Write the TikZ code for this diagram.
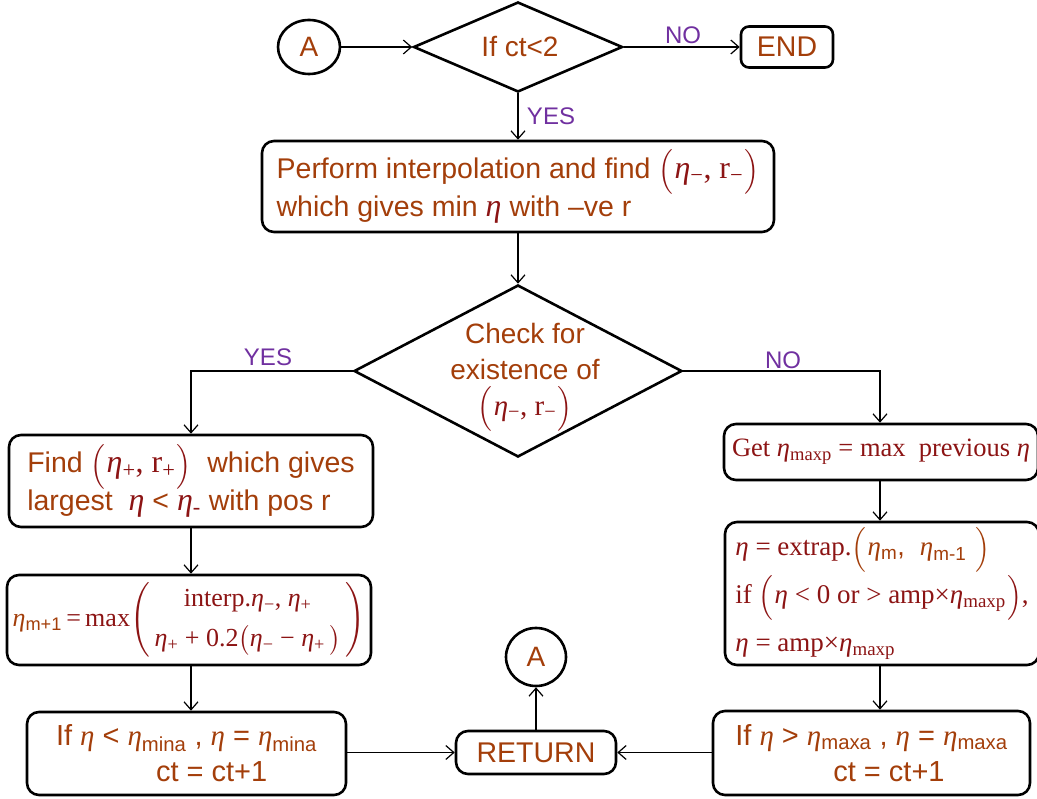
\documentclass[tikz,border=0pt]{standalone}
\usepackage{amsmath}
\usepackage{fontspec}
\setmainfont{Liberation Sans}
\newfontfamily\tms{Liberation Serif}
\usetikzlibrary{shapes.geometric,arrows.meta}
\definecolor{tc}{RGB}{163,62,10}
\definecolor{mc}{RGB}{140,20,20}
\definecolor{lc}{RGB}{112,48,160}
\newcommand{\Et}{{\tms\itshape η}}
\newcommand{\Sb}[1]{\textsubscript{#1}}
\newcommand{\Mt}[1]{{\color{mc}\tms\fontsize{32}{36}\selectfont #1}}
\newcommand{\LP}{$\left(\rule[-10pt]{0pt}{36pt}\right.$}
\newcommand{\RP}{$\left.\rule[-10pt]{0pt}{36pt}\right)$}
\newcommand{\LPs}{$\left(\rule[-9pt]{0pt}{32pt}\right.$}
\newcommand{\RPs}{$\left.\rule[-9pt]{0pt}{32pt}\right)$}
\tikzset{
  box/.style={draw=black, line width=2.6pt, rounded corners=12pt, inner sep=0pt, text=tc, align=left, font=\fontsize{28.5}{36}\selectfont},
  ell/.style={draw=black, ellipse, line width=2.6pt, inner sep=0pt, text=tc, font=\fontsize{28}{36}\selectfont},
  dia/.style={draw=black, diamond, line width=2.6pt, inner sep=0pt},
  txt/.style={text=tc, align=center, inner sep=0pt, font=\fontsize{28}{36}\selectfont},
  conn/.style={line width=1.2pt, -{Straight Barb[length=8pt,width=14pt]}},
  lbl/.style={text=lc, inner sep=0pt, font=\fontsize{24}{28}\selectfont},
}
\begin{document}
\begin{tikzpicture}[x=1pt,y=-1pt]
\useasboundingbox (0,0) rectangle (1037,799);
% top row
\node[ell, minimum width=62pt, minimum height=54pt] (A1) at (309,47) {A};
\node[dia, minimum width=209pt, minimum height=90pt] (d1) at (518,47) {};
\node[txt] (d1t) at (520,47) {If ct<2};
\node[box, rounded corners=8pt, minimum width=92pt, minimum height=41pt, align=center] (end) at (787,47) {END};
% main box
\node[box, minimum width=512pt, minimum height=91pt] (b1) at (518,186.5)
  {Perform interpolation and find \Mt{\LP\Et\Sb{−}, r\Sb{−}\RP}\\
   which gives min \Mt{\Et} with –ve r};
% diamond 2
\node[dia, minimum width=328pt, minimum height=172pt] (d2) at (518,371) {};
\node[txt] (d2t) at (525,377) {Check for\\existence of\\{\color{mc}\tms\fontsize{29}{34}\selectfont\LPs\Et\Sb{−}, r\Sb{−}\RPs}};
% left column
\node[box, minimum width=364pt, minimum height=92pt] (f) at (191,481)
  {Find \Mt{\LP\Et\Sb{+}, r\Sb{+}\RP} \ which gives\\
   largest \ \Mt{\Et} < \Mt{\Et\Sb{-}} with pos r};
\node[box, minimum width=364pt, minimum height=90pt, font=\fontsize{26}{34}\selectfont] (m) at (189,620)
  {{\color{tc}\Et\Sb{m+1}}{\color{mc}\tms\,=\,max$\left(\begin{array}{c}\mbox{interp.\Et\Sb{−}, \Et\Sb{+}}\\[6pt] \mbox{\Et\Sb{+} + 0.2$\bigl($\Et\Sb{−} − \Et\Sb{+}\,$\bigr)$}\end{array}\right)$}};
\node[box, minimum width=319pt, minimum height=83pt, font=\fontsize{29}{36}\selectfont] (imin) at (186.5,753.5)
  {If \Et{} < \Et\Sb{mina} , \Et{} = \Et\Sb{mina}\\ \hspace*{100pt}ct = ct+1};
% bottom middle
\node[box, minimum width=160pt, minimum height=43pt, align=center] (ret) at (536,752.5) {RETURN};
\node[ell, minimum width=60pt, minimum height=58pt] (A2) at (536,657) {A};
% right column
\node[box, minimum width=314pt, minimum height=56pt, font=\fontsize{26.5}{36}\selectfont] (g) at (881,452)
  {{\tms\color{mc}Get \Et\Sb{maxp} = max \ previous \Et}};
\node[box, minimum width=314pt, minimum height=143pt, font=\fontsize{27}{48}\selectfont] (x) at (882,593.5)
  {{\tms\color{mc}\Et{} = extrap.}{\color{tc}\LP\Et\Sb{m}, \ \Et\Sb{m-1} \RP}\\
   {\tms\color{mc}if \LP\Et{} < 0 or > amp×\Et\Sb{maxp}\RP,}\\
   {\tms\color{mc}\Et{} = amp×\Et\Sb{maxp}}};
\node[box, minimum width=317pt, minimum height=84pt, font=\fontsize{29}{36}\selectfont] (imax) at (871.5,753)
  {If \Et{} > \Et\Sb{maxa} , \Et{} = \Et\Sb{maxa}\\ \hspace*{98pt}ct = ct+1};
% labels
\node[lbl] (lno1) at (683,35) {NO};
\node[lbl] (lyes1) at (551,116) {YES};
\node[lbl] (lyes2) at (268,357) {YES};
\node[lbl] (lno2) at (783,360) {NO};
% connectors
\draw[conn] (A1.east) -- (d1.west);
\draw[conn] (d1.east) -- (end.west);
\draw[conn] (d1.south) -- (b1.north);
\draw[conn] (b1.south) -- (d2.north);
\draw[conn] (d2.west) -| (f.north);
\draw[conn] (d2.east) -| ([xshift=-1pt]g.north);
\draw[conn] (f.south) -- (f.south |- m.north);
\draw[conn] (f.south |- m.south) -- (f.south |- imin.north);
\draw[conn] (imin.east |- ret.west) -- (ret.west);
\draw[conn] (ret.north) -- (A2.south);
\draw[conn] ([xshift=-1pt]g.south) -- ([xshift=-1pt]g.south |- x.north);
\draw[conn] ([xshift=-1pt]g.south |- x.south) -- ([xshift=-1pt]g.south |- imax.north);
\draw[conn] (imax.west |- ret.east) -- (ret.east);
\end{tikzpicture}
\end{document}
